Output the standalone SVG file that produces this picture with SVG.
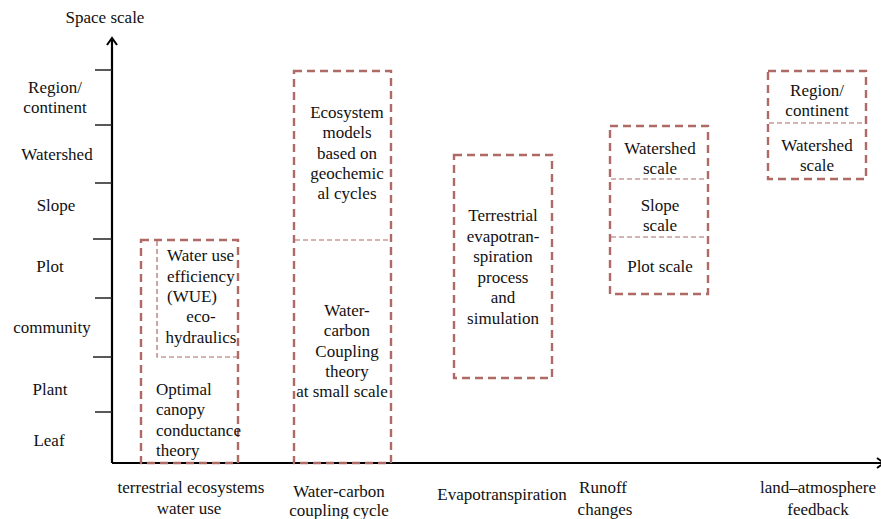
<svg xmlns="http://www.w3.org/2000/svg" width="881" height="519" viewBox="0 0 881 519">
<style>
text{font-size:17px;fill:#111;text-anchor:middle}
.l{text-anchor:start}
.box{fill:none;stroke:#b06a65;stroke-width:2.4;stroke-dasharray:8 5}
.div{fill:none;stroke:#b06a65;stroke-width:1.2;stroke-dasharray:5 3}
.ax{stroke:#000;stroke-width:2.2;fill:none}
.tk{stroke:#222;stroke-width:1.5}
</style>
<defs>
<marker id="ah" markerWidth="12" markerHeight="12" refX="9" refY="6" orient="auto" markerUnits="userSpaceOnUse">
<path d="M2,1 L9,6 L2,11" fill="none" stroke="#000" stroke-width="2"/>
</marker>
</defs>
<g font-family="Liberation Serif, Times New Roman, serif">
<g id="axes">
<line class="ax" x1="112" y1="463" x2="112" y2="38" marker-end="url(#ah)"/>
<line class="ax" x1="112" y1="463" x2="884" y2="463" marker-end="url(#ah)"/>
<text x="105" y="23">Space scale</text>
<g class="tk">
<line x1="95" y1="70" x2="112" y2="70"/>
<line x1="95" y1="125" x2="112" y2="125"/>
<line x1="95" y1="183" x2="112" y2="183"/>
<line x1="93" y1="239" x2="112" y2="239"/>
<line x1="95" y1="298" x2="112" y2="298"/>
<line x1="93" y1="357" x2="112" y2="357"/>
<line x1="95" y1="412" x2="112" y2="412"/>
</g>
<text x="55" y="93">Region/</text>
<text x="55" y="113">continent</text>
<text x="57" y="160">Watershed</text>
<text x="56" y="211">Slope</text>
<text x="50" y="272">Plot</text>
<text x="52" y="333">community</text>
<text x="50" y="395">Plant</text>
<text x="49" y="446">Leaf</text>
<text x="191" y="493">terrestrial ecosystems</text>
<text x="189" y="514">water use</text>
<text x="339" y="497">Water-carbon</text>
<text x="339" y="516">coupling cycle</text>
<text x="502" y="500">Evapotranspiration</text>
<text x="603" y="493">Runoff</text>
<text x="605" y="515">changes</text>
<text x="818" y="493">land–atmosphere</text>
<text x="818" y="515">feedback</text>
</g>
<g id="wue">
<rect class="box" x="141" y="240" width="97" height="223"/>
<polyline class="div" points="157,241 157,357 238,357"/>
<text class="l" x="167" y="261">Water use</text>
<text class="l" x="167" y="282">efficiency</text>
<text class="l" x="167" y="302">(WUE)</text>
<text x="201" y="322">eco-</text>
<text x="201" y="343">hydraulics</text>
<text class="l" x="156" y="395">Optimal</text>
<text class="l" x="156" y="415">canopy</text>
<text class="l" x="156" y="436">conductance</text>
<text class="l" x="156" y="456">theory</text>
</g>
<g id="wc">
<rect class="box" x="294" y="71" width="97" height="392"/>
<line class="div" x1="295" y1="240" x2="391" y2="240"/>
<text x="347" y="118">Ecosystem</text>
<text x="347" y="138">models</text>
<text x="347" y="159">based on</text>
<text x="347" y="179">geochemic</text>
<text x="347" y="199">al cycles</text>
<text x="347" y="316">Water-</text>
<text x="347" y="336">carbon</text>
<text x="347" y="357">Coupling</text>
<text x="347" y="377">theory</text>
<text x="342" y="397">at small scale</text>
</g>
<g id="et">
<rect class="box" x="454" y="155" width="98" height="223"/>
<text x="503" y="221">Terrestrial</text>
<text x="503" y="242">evapotran-</text>
<text x="503" y="262">spiration</text>
<text x="503" y="283">process</text>
<text x="503" y="303">and</text>
<text x="503" y="324">simulation</text>
</g>
<g id="runoff">
<rect class="box" x="610" y="126" width="98" height="168"/>
<line class="div" x1="611" y1="179" x2="707" y2="179"/>
<line class="div" x1="611" y1="237" x2="707" y2="237"/>
<text x="660" y="154">Watershed</text>
<text x="660" y="174">scale</text>
<text x="660" y="211">Slope</text>
<text x="660" y="231">scale</text>
<text x="660" y="272">Plot scale</text>
</g>
<g id="land">
<rect class="box" x="768" y="71" width="98" height="108"/>
<line class="div" x1="769" y1="123" x2="865" y2="123"/>
<text x="817" y="96">Region/</text>
<text x="817" y="116">continent</text>
<text x="817" y="151">Watershed</text>
<text x="817" y="171">scale</text>
</g>
</g>
</svg>
